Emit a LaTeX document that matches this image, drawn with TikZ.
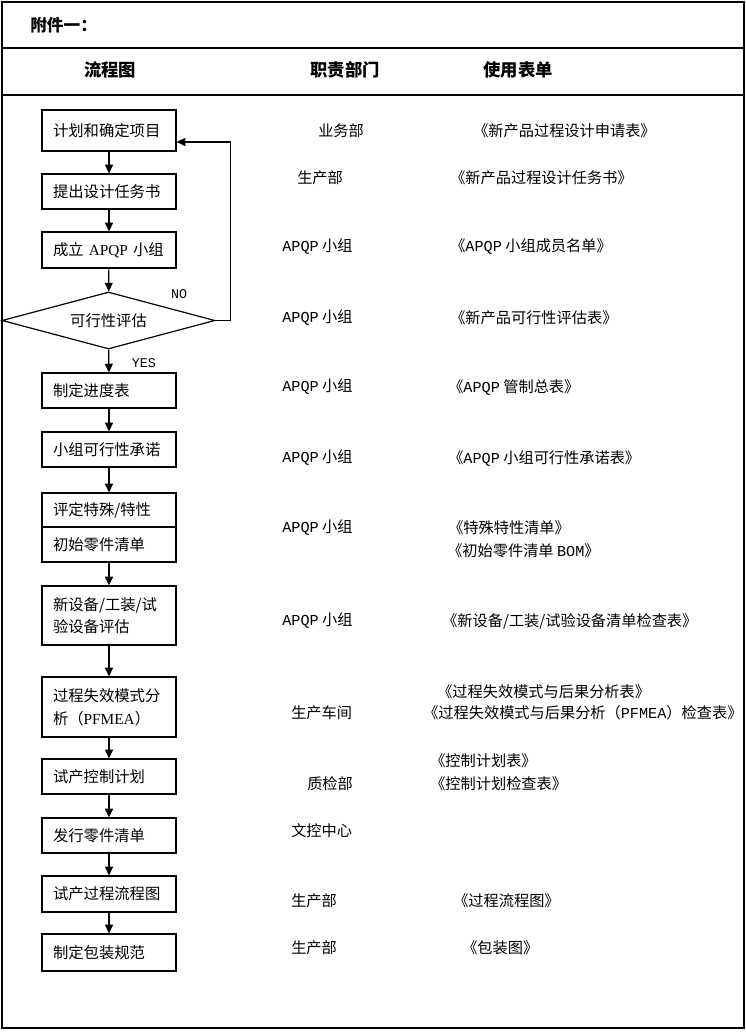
\documentclass[tikz,border=0pt]{standalone}
\usepackage{fontspec}
\setmainfont{Liberation Serif}
\setmonofont{Liberation Mono}
\newfontfamily\cjk{Noto Sans CJK SC}
\usetikzlibrary{arrows.meta,shapes.geometric}
\newcommand\lat[1]{{\rmfamily #1}}
\begin{document}
\begin{tikzpicture}[x=0.75pt, y=-0.75pt,
  box/.style={draw, line width=0.9pt, text width=84pt, inner xsep=8.25pt, inner ysep=0pt, align=left, minimum height=26.25pt, font=\cjk\fontsize{11.5}{17}\selectfont},
  flow/.style={line width=0.9pt, -{Triangle[length=6.5pt, width=6pt]}},
  cell/.style={anchor=west, inner sep=0pt, font=\cjk\fontsize{11.4}{14}\selectfont},
  head/.style={inner sep=0pt, font=\cjk\bfseries\fontsize{13}{16}\selectfont}]
\useasboundingbox (0,0) rectangle (746,1032);
  \draw[line width=0.9pt] (2,2) rectangle (744,1028);
  \draw[line width=0.9pt] (2,48) -- (744,48);
  \draw[line width=0.9pt] (2,95) -- (744,95);
  \node[head, anchor=west, font=\cjk\bfseries\fontsize{12.5}{15}\selectfont] (annex) at (30,25) {附件一：};
  \node[head] (colflow) at (110,70) {流程图};
  \node[head] (coldept) at (345,70) {职责部门};
  \node[head] (colform) at (518,70) {使用表单};
  \node[box, minimum height=30.75pt] (plan) at (109,130.5) {计划和确定项目};
  \node[box] (task) at (109,191.5) {提出设计任务书};
  \node[box, minimum height=27pt] (team) at (109,250) {成立 \lat{APQP} 小组};
  \node[draw, diamond, aspect=3.7, line width=0.9pt, minimum width=159.75pt, minimum height=42.75pt, inner sep=0pt, font=\cjk\fontsize{11.5}{14}\selectfont] (feas) at (108.5,320.5) {可行性评估};
  \node[box] (sched) at (109,390.5) {制定进度表};
  \node[box] (commit) at (109,449.5) {小组可行性承诺};
  \node[box, minimum height=25.5pt] (special) at (109,510) {评定特殊/特性};
  \node[box] (parts) at (109,544.5) {初始零件清单};
  \node[box, minimum height=44.25pt] (equip) at (109,615.5) {新设备/工装/试\\验设备评估};
  \node[box, minimum height=45pt] (pfmea) at (109,707) {过程失效模式分\\析（\lat{PFMEA}）};
  \node[box] (control) at (109,776.5) {试产控制计划};
  \node[box] (release) at (109,835.5) {发行零件清单};
  \node[box, minimum height=27pt] (process) at (109,894) {试产过程流程图};
  \node[box, minimum height=27.75pt] (pack) at (109,952.5) {制定包装规范};
  \draw[flow] (plan) -- (task);
  \draw[flow] (task) -- (team);
  \draw[flow] (team) -- (feas);
  \draw[flow] (feas) -- (sched);
  \draw[flow] (sched) -- (commit);
  \draw[flow] (commit) -- (special);
  \draw[flow] (parts) -- (equip);
  \draw[flow] (equip) -- (pfmea);
  \draw[flow] (pfmea) -- (control);
  \draw[flow] (control) -- (release);
  \draw[flow] (release) -- (process);
  \draw[flow] (process) -- (pack);
  \draw[flow] (feas.east) -- ++(15,0) |- ([yshift=-8.6pt]plan.east);
  \node[inner sep=0pt, font=\ttfamily\fontsize{10}{12}\selectfont] (no) at (179,294) {NO};
  \node[inner sep=0pt, font=\ttfamily\fontsize{10}{12}\selectfont] (yes) at (144,363) {YES};
  \node[cell] (d1) at (318,131) {业务部};
  \node[cell] (d2) at (297,178) {生产部};
  \node[cell] (d3) at (282,247) {\texttt{APQP} 小组};
  \node[cell] (d4) at (282,318) {\texttt{APQP} 小组};
  \node[cell] (d5) at (282,387) {\texttt{APQP} 小组};
  \node[cell] (d6) at (282,458) {\texttt{APQP} 小组};
  \node[cell] (d7) at (282,528) {\texttt{APQP} 小组};
  \node[cell] (d8) at (282,621) {\texttt{APQP} 小组};
  \node[cell] (d9) at (291,713) {生产车间};
  \node[cell] (d10) at (307,784) {质检部};
  \node[cell] (d11) at (291,831) {文控中心};
  \node[cell] (d12) at (291,901) {生产部};
  \node[cell] (d13) at (291,948) {生产部};
  \node[cell] (f1) at (473,131) {《新产品过程设计申请表》};
  \node[cell] (f2) at (450,178) {《新产品过程设计任务书》};
  \node[cell] (f3) at (450,247) {《\texttt{APQP} 小组成员名单》};
  \node[cell] (f4) at (450,318) {《新产品可行性评估表》};
  \node[cell] (f5) at (448,387) {《\texttt{APQP} 管制总表》};
  \node[cell] (f6) at (448,458) {《\texttt{APQP} 小组可行性承诺表》};
  \node[cell] (f7) at (448,528) {《特殊特性清单》};
  \node[cell] (f8) at (447,551) {《初始零件清单 \texttt{BOM}》};
  \node[cell] (f9) at (442,621) {《新设备/工装/试验设备清单检查表》};
  \node[cell] (f10) at (437,692) {《过程失效模式与后果分析表》};
  \node[cell] (f11) at (423,713) {《过程失效模式与后果分析（\texttt{PFMEA}）检查表》};
  \node[cell] (f12) at (430,761) {《控制计划表》};
  \node[cell] (f13) at (430,784) {《控制计划检查表》};
  \node[cell] (f14) at (453,901) {《过程流程图》};
  \node[cell] (f15) at (462,948) {《包装图》};
\end{tikzpicture}
\end{document}
